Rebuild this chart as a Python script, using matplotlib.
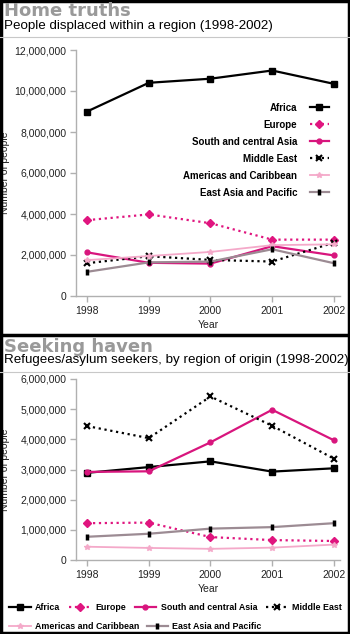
import matplotlib.pyplot as plt
from matplotlib.lines import Line2D
from matplotlib.patches import Rectangle
from matplotlib.ticker import FuncFormatter

plt.rcParams['font.family'] = ['Liberation Sans', 'DejaVu Sans']

years = [1998, 1999, 2000, 2001, 2002]
regions = ["Africa", "Europe", "South and central Asia", "Middle East",
           "Americas and Caribbean", "East Asia and Pacific"]

# people displaced within a region
displaced = {
    "Africa": [9000000, 10400000, 10600000, 11000000, 10350000],
    "Europe": [3700000, 3980000, 3550000, 2750000, 2750000],
    "South and central Asia": [2130000, 1620000, 1580000, 2430000, 1980000],
    "Middle East": [1600000, 1940000, 1760000, 1680000, 2600000],
    "Americas and Caribbean": [1750000, 1950000, 2150000, 2480000, 2520000],
    "East Asia and Pacific": [1180000, 1640000, 1680000, 2280000, 1600000],
}

# refugees / asylum seekers by region of origin
refugees = {
    "Africa": [2890000, 3080000, 3270000, 2930000, 3040000],
    "Europe": [1220000, 1240000, 760000, 660000, 630000],
    "South and central Asia": [2920000, 2940000, 3900000, 4980000, 3970000],
    "Middle East": [4440000, 4040000, 5420000, 4450000, 3360000],
    "Americas and Caribbean": [440000, 400000, 370000, 410000, 510000],
    "East Asia and Pacific": [770000, 870000, 1040000, 1090000, 1220000],
}

styles = {
    "Africa": dict(color='black', ls='-', marker='s', ms=4.5, lw=1.6),
    "Europe": dict(color='#e0157f', ls=':', marker='D', ms=4.5, lw=1.6),
    "South and central Asia": dict(color='#d8157d', ls='-', marker='o', ms=3.5, lw=1.6),
    "Middle East": dict(color='black', ls=':', marker='x', ms=5, mew=1.5, lw=1.6),
    "Americas and Caribbean": dict(color='#f4a9c9', ls='-', marker='*', ms=4, lw=1.3),
    "East Asia and Pacific": dict(color='#9c8b93', ls='-', marker='|', ms=5,
                                  mew=2.5, mec='black', lw=1.6),
}

W, H = 350, 634
fig = plt.figure(figsize=(W / 100, H / 100), dpi=100)
fig.patch.set_facecolor('white')

def fx(px):
    return px / W

def fy(py):
    return 1 - py / H

fmt = FuncFormatter(lambda v, p: '{:,.0f}'.format(v))
TXT = '#222222'

def make_axes(rect, data, ymax, step):
    ax = fig.add_axes(rect)
    for r in regions:
        ax.plot(years, data[r], label=r, **styles[r])
    ax.set_xlim(1997.82, 2002.1)
    ax.set_ylim(0, ymax)
    ax.set_xticks(years)
    ax.set_yticks(range(0, ymax + 1, step))
    ax.yaxis.set_major_formatter(fmt)
    for s in ['top', 'right']:
        ax.spines[s].set_visible(False)
    for s in ['left', 'bottom']:
        ax.spines[s].set_color('#b0b0b0')
        ax.spines[s].set_linewidth(1)
    ax.tick_params(colors='#b0b0b0', labelcolor=TXT, labelsize=7.5,
                   length=4, width=1, pad=3)
    ax.set_xlabel('Year', fontsize=7.5, color=TXT, labelpad=3)
    ax.set_ylabel('Number of people', fontsize=7.5, color=TXT)
    ax.yaxis.set_label_coords((10 - 76) / 264, 0.5)
    return ax

ax1 = make_axes([fx(76), fy(296), fx(340) - fx(76), fy(50) - fy(296)],
                displaced, 12000000, 2000000)
ax2 = make_axes([fx(76), fy(560), fx(340) - fx(76), fy(379) - fy(560)],
                refugees, 6000000, 1000000)

leg1 = ax1.legend(loc='upper right', bbox_to_anchor=(fx(334), fy(98)),
                  bbox_transform=fig.transFigure, frameon=False, markerfirst=False,
                  prop=dict(size=7, weight='bold'), handlelength=2.0,
                  handletextpad=1.3, labelspacing=0.72, borderpad=0)

h, l = ax2.get_legend_handles_labels()
leg2 = fig.legend(h[:4], l[:4], loc='upper left', bbox_to_anchor=(fx(5), fy(599)),
                  frameon=False, ncol=4, prop=dict(size=6.4, weight='bold'),
                  handlelength=2.4, handletextpad=0.5, columnspacing=1.0, borderpad=0)
leg3 = fig.legend(h[4:], l[4:], loc='upper left', bbox_to_anchor=(fx(5), fy(618)),
                  frameon=False, ncol=2, prop=dict(size=6.4, weight='bold'),
                  handlelength=2.4, handletextpad=0.5, columnspacing=0.8, borderpad=0)

# headings
fig.text(fx(4), fy(2.5), 'Home truths', fontsize=13, weight='bold',
         family='DejaVu Sans', color='#999999', va='top')
fig.text(fx(4), fy(19.5), 'People displaced within a region (1998-2002)',
         fontsize=9.6, color='black', va='top')
fig.text(fx(4), fy(337.5), 'Seeking haven', fontsize=13, weight='bold',
         family='DejaVu Sans', color='#999999', va='top')
fig.text(fx(4), fy(354.5), 'Refugees/asylum seekers, by region of origin (1998-2002)',
         fontsize=9.6, color='black', va='top')

# separators and frame
fig.add_artist(Line2D([0, 1], [fy(36.5), fy(36.5)], color='#c8c8c8', lw=0.8))
fig.add_artist(Line2D([0, 1], [fy(371.5), fy(371.5)], color='#c8c8c8', lw=0.8))
fig.add_artist(Line2D([0, 1], [fy(335), fy(335)], color='black', lw=2.5))
fig.add_artist(Rectangle((0.002, 0.001), 0.996, 0.997, fill=False,
                         edgecolor='black', lw=2.5, transform=fig.transFigure))

fig.savefig('out.png', dpi=100)
